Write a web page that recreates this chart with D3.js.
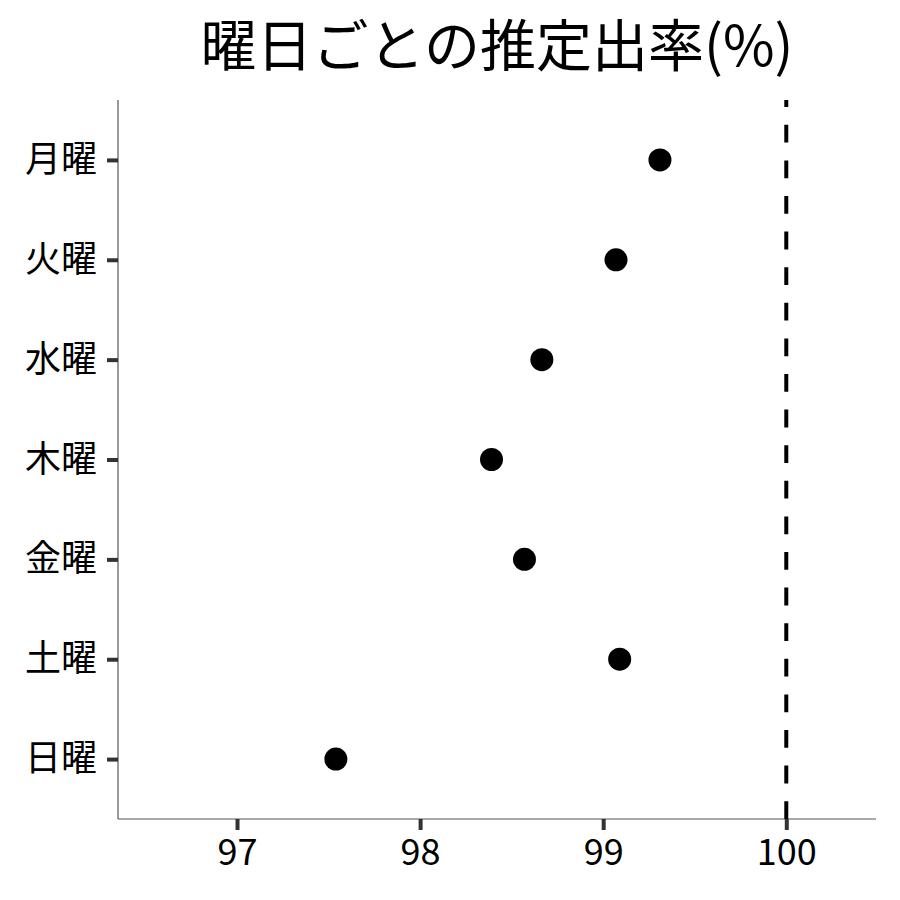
<!DOCTYPE html>
<html>
<head>
<meta charset="utf-8">
<script src="https://cdn.jsdelivr.net/npm/d3@7"></script>
<style>
  body { margin: 0; background: #fff; }
  text { font-family: "Noto Sans CJK JP", "Noto Sans", sans-serif; fill: #000; }
</style>
</head>
<body>
<div id="chart"></div>
<script>
// 曜日ごとの推定出率
const days = ["月曜", "火曜", "水曜", "木曜", "金曜", "土曜", "日曜"];
const rates = [99.31, 99.07, 98.665, 98.39, 98.57, 99.09, 97.54];
const xTicks = [97, 98, 99, 100];
const refLine = 100;
const title = "曜日ごとの推定出率(%)";

const width = 900, height = 900;
const margin = { top: 100, right: 24, bottom: 81, left: 118 };

const svg = d3.select("#chart").append("svg")
  .attr("width", width)
  .attr("height", height);

const x = d3.scaleLinear()
  .domain([96.35, 100.49])
  .range([margin.left, width - margin.right]);

const y = d3.scalePoint()
  .domain(days)
  .range([margin.top, height - margin.bottom])
  .padding(0.6);

// title
svg.append("text")
  .attr("x", (margin.left + width - margin.right) / 2)
  .attr("y", 66)
  .attr("text-anchor", "middle")
  .attr("font-size", 56)
  .text(title);

// x axis
const xAxis = svg.append("g")
  .attr("transform", `translate(0,${height - margin.bottom})`)
  .call(d3.axisBottom(x).tickValues(xTicks).tickSize(11).tickPadding(8).tickFormat(d3.format("d")));
xAxis.select(".domain").attr("stroke", "#555").attr("stroke-width", 1.2);
xAxis.selectAll(".tick line").attr("stroke", "#333").attr("stroke-width", 4);
xAxis.selectAll(".tick text").attr("font-size", 36).attr("dy", "0.75em")
  .style("font-family", '"Noto Sans CJK JP", sans-serif');

// y axis
const yAxis = svg.append("g")
  .attr("transform", `translate(${margin.left},0)`)
  .call(d3.axisLeft(y).tickSize(11).tickPadding(10));
yAxis.select(".domain").attr("stroke", "#555").attr("stroke-width", 1.2);
yAxis.selectAll(".tick line").attr("stroke", "#333").attr("stroke-width", 4);
yAxis.selectAll(".tick text").attr("font-size", 36)
  .style("font-family", '"Noto Sans CJK JP", sans-serif');

// remove the end caps on the domain paths
xAxis.select(".domain").attr("d", `M${margin.left},0H${width - margin.right}`);
yAxis.select(".domain").attr("d", `M0,${margin.top}V${height - margin.bottom}`);

// dashed reference line, drawn bottom up
svg.append("line")
  .attr("x1", x(refLine)).attr("x2", x(refLine))
  .attr("y1", height - margin.bottom).attr("y2", margin.top)
  .attr("stroke", "#000")
  .attr("stroke-width", 4)
  .attr("stroke-dasharray", "17.8,17.8");

// points
svg.append("g").selectAll("circle")
  .data(days)
  .join("circle")
  .attr("cx", (d, i) => x(rates[i]))
  .attr("cy", d => y(d))
  .attr("r", 11.5)
  .attr("fill", "#000");
</script>
</body>
</html>
